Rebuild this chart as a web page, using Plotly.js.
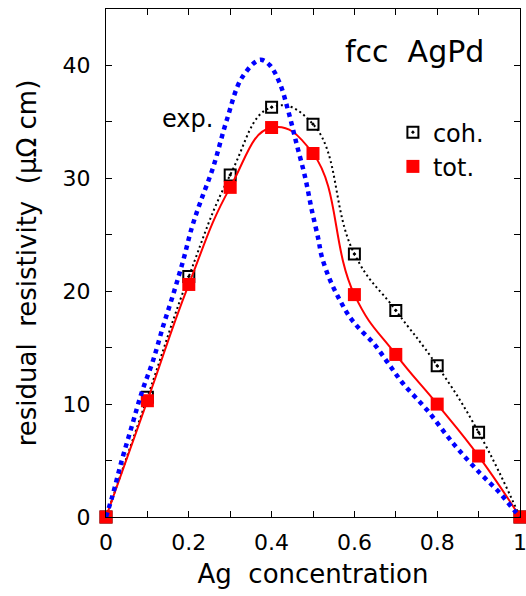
<!DOCTYPE html>
<html>
<head>
<meta charset="utf-8">
<script src="https://cdn.plot.ly/plotly-3.0.1.min.js"></script>
<style>html,body{margin:0;padding:0;background:#fff;}#chart{width:526px;height:596px;}</style>
</head>
<body>
<div id="chart"></div>
<script>
// Ag concentration of the calculated points
const conc = [0, 0.1, 0.2, 0.3, 0.4, 0.5, 0.6, 0.7, 0.8, 0.9, 1.0];
// coherent part of residual resistivity (open squares)
const coh = [0, 10.6, 21.3, 30.3, 36.3, 34.8, 23.3, 18.3, 13.4, 7.5, 0];
// total residual resistivity (filled red squares)
const tot = [0, 10.3, 20.6, 29.2, 34.5, 32.2, 19.7, 14.4, 10.0, 5.4, 0];
const expX = [0, 0.015, 0.038, 0.062, 0.086, 0.114, 0.138, 0.163, 0.187, 0.207, 0.227, 0.259, 0.292, 0.328, 0.372, 0.396, 0.420, 0.440, 0.460, 0.481, 0.497, 0.513, 0.521, 0.541, 0.565, 0.589, 0.614, 0.646, 0.682, 0.718, 0.775, 0.839, 0.903, 0.952, 0.988, 1];
const expY = [0, 1.8, 5.0, 8.0, 11.0, 13.9, 16.9, 19.8, 22.8, 25.6, 27.8, 31.0, 35.2, 38.9, 40.5, 40.0, 38.4, 36.0, 33.1, 30.1, 27.2, 24.6, 23.1, 21.0, 19.2, 17.7, 16.6, 15.4, 13.6, 11.8, 9.5, 6.5, 3.9, 2.1, 0.5, 0];
// tick labels
const xTickVals = [0, 0.1, 0.2, 0.3, 0.4, 0.5, 0.6, 0.7, 0.8, 0.9, 1];
const xTickText = ['0', '', '0.2', '', '0.4', '', '0.6', '', '0.8', '', '1'];
const yTickVals = [0, 5, 10, 15, 20, 25, 30, 35, 40, 45];
const yTickText = ['0', '', '10', '', '20', '', '30', '', '40', ''];

const FONT = 'DejaVu Sans, Liberation Sans, Arial, sans-serif';

const traces = [
  {x: conc, y: coh, mode: 'lines', line: {shape: 'spline', smoothing: 1.3, color: '#000', width: 2, dash: '2px,3px'}, showlegend: false, hoverinfo: 'skip'},
  {x: conc, y: coh, mode: 'markers', name: 'coh.', marker: {symbol: 'square-open-dot', size: 11, color: '#000', line: {width: 2, color: '#000'}}, cliponaxis: false},
  {x: conc, y: tot, mode: 'lines', line: {shape: 'spline', smoothing: 1.3, color: '#ff0000', width: 2}, showlegend: false, hoverinfo: 'skip'},
  {x: conc, y: tot, mode: 'markers', name: 'tot.', marker: {symbol: 'square', size: 13, color: '#ff0000'}, cliponaxis: false},
  {x: expX, y: expY, mode: 'lines', line: {shape: 'spline', smoothing: 1, color: '#0000ff', width: 4.5, dash: 'dot'}, showlegend: false, hoverinfo: 'skip', cliponaxis: false}
];

const axisCommon = {
  showgrid: false, zeroline: false, showline: true, linecolor: '#000', linewidth: 1,
  mirror: 'allticks', ticks: 'inside', ticklen: 6, tickwidth: 1, tickcolor: '#000',
  ticklabeloverflow: 'allow',
  tickfont: {family: FONT, size: 22, color: '#000'}
};

const layout = {
  width: 526, height: 596,
  margin: {l: 106, r: 6, t: 9, b: 79},
  paper_bgcolor: '#fff', plot_bgcolor: '#fff',
  font: {family: FONT, color: '#000'},
  xaxis: Object.assign({}, axisCommon, {
    range: [0, 1], tickmode: 'array', tickvals: xTickVals, ticktext: xTickText,
    ticklabelstandoff: 6,
    title: {text: 'Ag\u00a0\u00a0concentration', font: {family: FONT, size: 26, color: '#000'}, standoff: 10}
  }),
  yaxis: Object.assign({}, axisCommon, {
    range: [0, 45], tickmode: 'array', tickvals: yTickVals, ticktext: yTickText,
    ticklabelstandoff: 10,
    title: {text: 'residual\u00a0\u00a0resistivity\u00a0\u00a0(\u03bc\u03a9 cm)', font: {family: FONT, size: 26, color: '#000'}, standoff: 18}
  }),
  legend: {
    x: 0.693, y: 0.801, xanchor: 'left', yanchor: 'top',
    font: {family: FONT, size: 24, color: '#000'},
    bgcolor: 'rgba(0,0,0,0)', borderwidth: 0, itemclick: false
  },
  annotations: [
    {text: 'fcc\u00a0\u00a0AgPd', xref: 'paper', yref: 'paper', x: 0.745, y: 0.917, xanchor: 'center', yanchor: 'middle', showarrow: false, font: {family: FONT, size: 30, color: '#000'}},
    {text: 'exp.', xref: 'x', yref: 'y', x: 0.196, y: 35.3, xanchor: 'center', yanchor: 'middle', showarrow: false, font: {family: FONT, size: 24, color: '#000'}}
  ],
  showlegend: true
};

Plotly.newPlot('chart', traces, layout, {staticPlot: true, displayModeBar: false});
</script>
</body>
</html>
